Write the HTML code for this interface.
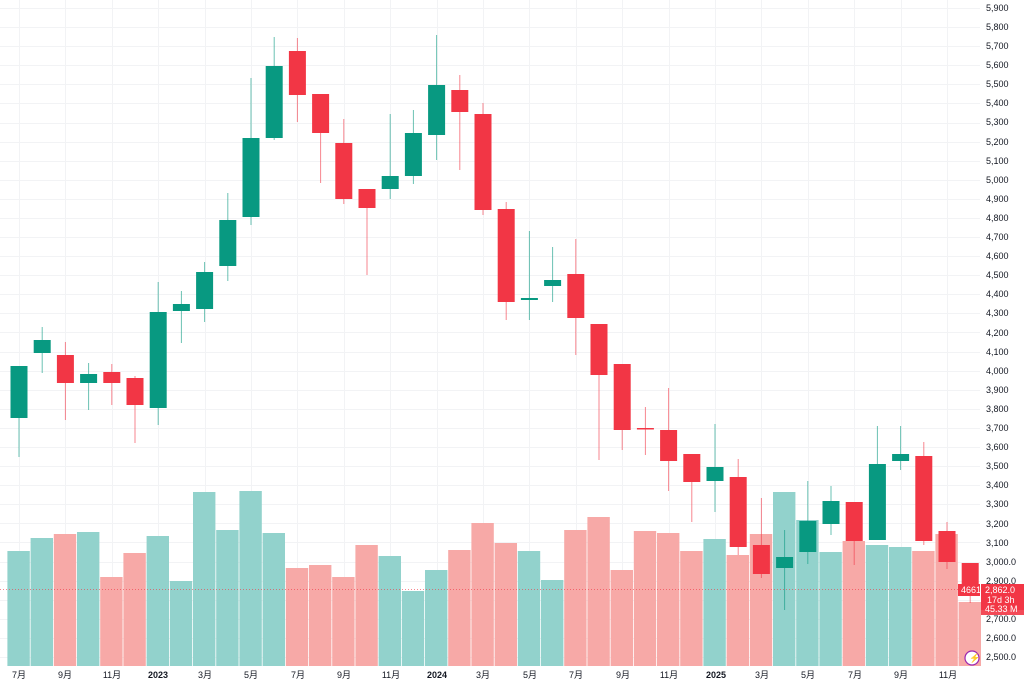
<!DOCTYPE html>
<html><head><meta charset="utf-8"><style>
body{margin:0;background:#fff;width:1024px;height:690px;overflow:hidden;font-family:"Liberation Sans","Noto Sans CJK SC",sans-serif}
svg text{font-family:"Liberation Sans","Noto Sans CJK SC",sans-serif}
</style></head><body>
<svg id="s" width="1024" height="690" xmlns="http://www.w3.org/2000/svg">
<g id="grid" stroke="#f2f3f5" stroke-width="1"></g>
<g id="vol"></g>
<g id="cand"></g>
<line x1="0" y1="589.5" x2="980" y2="589.5" stroke="#f23645" stroke-width="1" stroke-dasharray="1,2" opacity="0.6"/>
<g font-size="9" fill="#131722">
<text x="986" y="11">5,900</text><text x="986" y="30">5,800</text><text x="986" y="49">5,700</text><text x="986" y="68">5,600</text><text x="986" y="87">5,500</text><text x="986" y="106">5,400</text><text x="986" y="125">5,300</text><text x="986" y="145">5,200</text><text x="986" y="164">5,100</text><text x="986" y="183">5,000</text><text x="986" y="202">4,900</text><text x="986" y="221">4,800</text><text x="986" y="240">4,700</text><text x="986" y="259">4,600</text><text x="986" y="278">4,500</text><text x="986" y="297">4,400</text><text x="986" y="316">4,300</text><text x="986" y="336">4,200</text><text x="986" y="355">4,100</text><text x="986" y="374">4,000</text><text x="986" y="393">3,900</text><text x="986" y="412">3,800</text><text x="986" y="431">3,700</text><text x="986" y="450">3,600</text><text x="986" y="469">3,500</text><text x="986" y="488">3,400</text><text x="986" y="507">3,300</text><text x="986" y="527">3,200</text><text x="986" y="546">3,100</text><text x="986" y="565">3,000.0</text><text x="986" y="584">2,900.0</text><text x="986" y="641">2,600.0</text><text x="986" y="660">2,500.0</text><text x="986" y="622">2,700.0</text>
</g>
<rect x="981" y="584" width="43" height="26" fill="#f23645"/>
<text x="985" y="593" font-size="9" fill="#fff">2,862.0</text>
<text x="987" y="603" font-size="9" fill="#fff">17d 3h</text>
<rect x="981" y="603" width="43" height="12" fill="#f23645" opacity="0.9"/>
<text x="985" y="612" font-size="9" fill="#fff">45.33 M</text>
<rect x="958" y="584" width="22" height="12" fill="#f23645"/>
<text x="961" y="593" font-size="9" fill="#fff">4661</text>
<circle cx="972" cy="658" r="7" fill="#fff" stroke="#9c27b0" stroke-width="1.2"/>
<text x="969" y="661" font-size="9" fill="#9c27b0">⚡</text>
<g font-size="9" fill="#131722" text-anchor="middle">
<text x="19" y="678">7月</text><text x="65" y="678">9月</text><text x="112" y="678">11月</text><text x="158" y="678" font-weight="bold">2023</text><text x="205" y="678">3月</text><text x="251" y="678">5月</text><text x="298" y="678">7月</text><text x="344" y="678">9月</text><text x="391" y="678">11月</text><text x="437" y="678" font-weight="bold">2024</text><text x="483" y="678">3月</text><text x="530" y="678">5月</text><text x="576" y="678">7月</text><text x="623" y="678">9月</text><text x="669" y="678">11月</text><text x="716" y="678" font-weight="bold">2025</text><text x="762" y="678">3月</text><text x="808" y="678">5月</text><text x="855" y="678">7月</text><text x="901" y="678">9月</text><text x="948" y="678">11月</text>
</g>
</svg>
<script>
var NS="http://www.w3.org/2000/svg";
function el(p,t,a){var e=document.createElementNS(NS,t);for(var k in a)e.setAttribute(k,a[k]);p.appendChild(e);}
var g=document.getElementById('grid');
for(var p=2500;p<=5900;p+=100){var y=Math.round(8+(5900-p)*0.19088)+0.5;el(g,'line',{x1:0,x2:980,y1:y,y2:y});}
for(var i=0;i<42;i+=2){var x=Math.round(19+i*23.2)+0.5;el(g,'line',{x1:x,x2:x,y1:0,y2:666});}
// o,c,h,l,color(1 green),vol
var d=[[418,366,366,457,1,551],[353,340,327,373,1,538],[355,383,342,420,0,534],[383,374,363,410,1,532],[372,383,364,405,0,577],[378,405,376,443,0,553],
[408,312,282,425,1,536],[311,304,291,343,1,581],[309,272,262,322,1,492],[266,220,193,281,1,530],[217,138,78,225,1,491],[138,66,37,140,1,533],
[51,95,38,122,0,568],[94,133,94,183,0,565],[143,199,119,204,0,577],[189,208,189,275,0,545],[189,176,114,199,1,556],[176,133,110,184,1,591],
[135,85,35,160,1,570],[90,112,75,170,0,550],[114,210,103,215,0,523],[209,302,202,320,0,543],[300,298,231,320,1,551],[286,280,247,302,1,580],
[274,318,239,355,0,530],[324,375,324,460,0,517],[364,430,364,450,0,570],[428,429,407,455,0,531],[430,461,388,491,0,533],[454,482,454,522,0,551],
[481,467,424,512,1,539],[477,547,459,555,0,555],[545,574,498,578,0,534],[568,557,530,610,1,492],[552,521,481,564,1,520],[524,501,486,535,1,552],
[502,541,502,565,0,541],[540,464,426,540,1,545],[461,454,426,470,1,547],[456,541,442,545,0,551],[531,562,522,569,0,534],[563,588,563,603,0,602]];
var V=document.getElementById('vol'),C=document.getElementById('cand');
d.forEach(function(r,i){var cx=19+i*23.2,x0=7.4+i*23.2;
el(V,'rect',{x:x0.toFixed(1),y:r[5],width:22.4,height:666-r[5],fill:r[4]?'#92d2cc':'#f7a9a7'});
var col=r[4]?'#089981':'#f23645';
el(C,'line',{x1:cx,x2:cx,y1:r[2],y2:r[3],stroke:col,'stroke-width':1,opacity:0.6});
var t=Math.min(r[0],r[1]),b=Math.max(r[0],r[1]);if(b-t<1.5)b=t+1.5;
el(C,'rect',{x:(cx-8.5).toFixed(1),y:t,width:17,height:b-t,fill:col});});
</script>
</body></html>
